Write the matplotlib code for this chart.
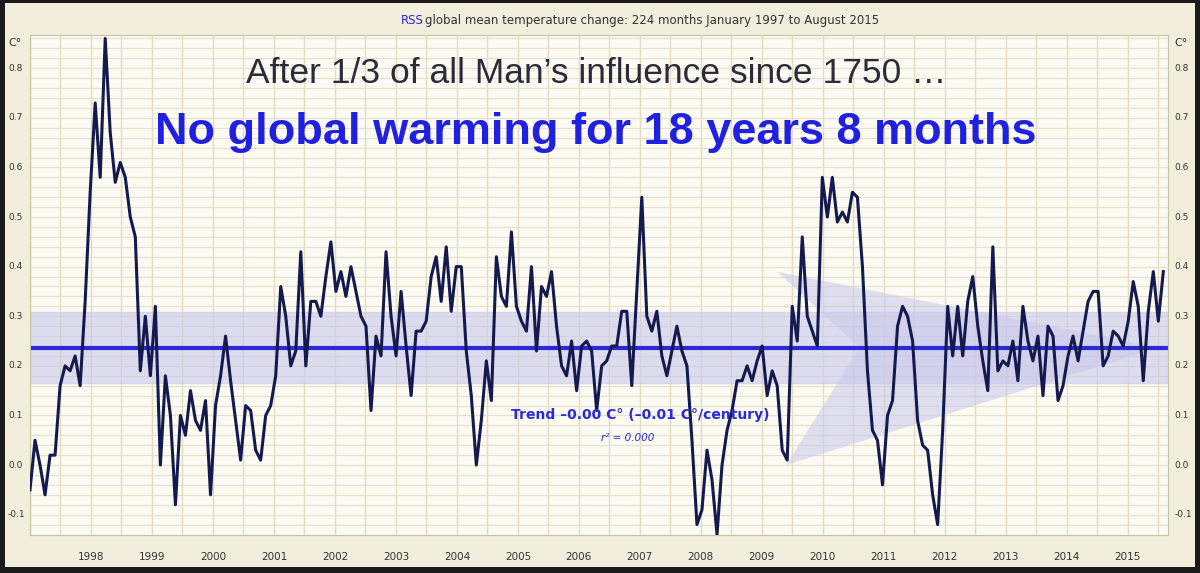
import numpy as np
import matplotlib
matplotlib.use("Agg")
import matplotlib.pyplot as plt
from matplotlib.patches import Polygon

y1997 = [-0.05, 0.05, 0.0, -0.06, 0.02, 0.02, 0.16, 0.20, 0.19, 0.22, 0.16, 0.33]
y1998 = [0.55, 0.73, 0.58, 0.86, 0.67, 0.57, 0.61, 0.58, 0.50, 0.46, 0.19, 0.30]
y1999 = [0.18, 0.32, 0.0, 0.18, 0.10, -0.08, 0.10, 0.06, 0.15, 0.09, 0.07, 0.13]
y2000 = [-0.06, 0.12, 0.18, 0.26, 0.17, 0.09, 0.01, 0.12, 0.11, 0.03, 0.01, 0.10]
y2001 = [0.12, 0.18, 0.36, 0.30, 0.20, 0.23, 0.43, 0.20, 0.33, 0.33, 0.30, 0.38]
y2002 = [0.45, 0.35, 0.39, 0.34, 0.40, 0.35, 0.30, 0.28, 0.11, 0.26, 0.22, 0.43]
y2003 = [0.30, 0.22, 0.35, 0.24, 0.14, 0.27, 0.27, 0.29, 0.38, 0.42, 0.33, 0.44]
y2004 = [0.31, 0.40, 0.40, 0.23, 0.14, 0.00, 0.09, 0.21, 0.13, 0.42, 0.34, 0.32]
y2005 = [0.47, 0.32, 0.29, 0.27, 0.40, 0.23, 0.36, 0.34, 0.39, 0.28, 0.20, 0.18]
y2006 = [0.25, 0.15, 0.24, 0.25, 0.23, 0.11, 0.20, 0.21, 0.24, 0.24, 0.31, 0.31]
y2007 = [0.16, 0.35, 0.54, 0.30, 0.27, 0.31, 0.22, 0.18, 0.23, 0.28, 0.23, 0.20]
y2008 = [0.05, -0.12, -0.09, 0.03, -0.03, -0.14, 0.00, 0.07, 0.11, 0.17, 0.17, 0.20]
y2009 = [0.17, 0.21, 0.24, 0.14, 0.19, 0.16, 0.03, 0.01, 0.32, 0.25, 0.46, 0.30]
y2010 = [0.27, 0.24, 0.58, 0.50, 0.58, 0.49, 0.51, 0.49, 0.55, 0.54, 0.40, 0.19]
y2011 = [0.07, 0.05, -0.04, 0.10, 0.13, 0.28, 0.32, 0.30, 0.25, 0.09, 0.04, 0.03]
y2012 = [-0.06, -0.12, 0.07, 0.32, 0.22, 0.32, 0.22, 0.33, 0.38, 0.28, 0.21, 0.15]
y2013 = [0.44, 0.19, 0.21, 0.20, 0.25, 0.17, 0.32, 0.25, 0.21, 0.26, 0.14, 0.28]
y2014 = [0.26, 0.13, 0.16, 0.22, 0.26, 0.21, 0.27, 0.33, 0.35, 0.35, 0.20, 0.22]
y2015 = [0.27, 0.26, 0.24, 0.29, 0.37, 0.32, 0.17, 0.31, 0.39, 0.29, 0.39]
anoms = (y1997 + y1998 + y1999 + y2000 + y2001 + y2002 + y2003 + y2004 + y2005 +
         y2006 + y2007 + y2008 + y2009 + y2010 + y2011 + y2012 + y2013 + y2014 + y2015)
years = list(range(1998, 2016))
yticks = [-0.1, 0.0, 0.1, 0.2, 0.3, 0.4, 0.5, 0.6, 0.7, 0.8]
trend = 0.237
band = 0.072

vals = np.array(anoms)
t = 1997 + np.arange(len(vals)) / 12 * (18 + 7/12) / ((len(vals) - 1) / 12)

fig = plt.figure(figsize=(12, 5.73), dpi=100)
fig.patch.set_facecolor("#1a1a1a")
bg = fig.add_axes([0.004, 0.01, 0.992, 0.985])
bg.set_facecolor("#f1eedc"); bg.set_xticks([]); bg.set_yticks([])
for s in bg.spines.values(): s.set_visible(False)

ax = fig.add_axes([30/1200, 1-535/573, 1138/1200, 500/573])
ax.set_facecolor("#fbfaf3")
ax.set_xlim(1997, 2015.66)
ax.set_ylim(-0.141, 0.867)
for x in np.arange(1997, 2016, 0.5):
    ax.axvline(x, color="#e2dcc0", lw=1, zorder=0)
for y in np.arange(-0.14, 0.87, 0.02):
    ax.axhline(y, color="#e6e1c8", lw=0.8, zorder=0)
ax.axhspan(trend - band, trend + band, color="#c9c8ec", alpha=0.6, zorder=1)
wedge = Polygon([[2009.25, 0.39], [2015.5, trend], [2009.4, 0.0], [2010.6, trend]],
                closed=True, color="#c9c8ec", alpha=0.55, zorder=1, lw=0)
ax.add_patch(wedge)
ax.axhline(trend, color="#2a2ad8", lw=3, zorder=2)
ax.plot(t, vals, color="#151a4e", lw=2.2, zorder=3)
ax.set_xticks([]); ax.set_yticks([])
for s in ax.spines.values(): s.set_color("#c8c2a4")

for v in yticks:
    ax.text(-22/1138, v, f"{v:.1f}", transform=ax.get_yaxis_transform(), ha="left",
            va="center", fontsize=6.5, color="#333")
    ax.text(1.006, v, f"{v:.1f}", transform=ax.get_yaxis_transform(), ha="left",
            va="center", fontsize=6.5, color="#333")
ax.text(-22/1138, 0.85, "C°", transform=ax.get_yaxis_transform(), ha="left", va="center", fontsize=8, color="#333")
ax.text(1.006, 0.85, "C°", transform=ax.get_yaxis_transform(), ha="left", va="center", fontsize=8, color="#333")
for yr in years:
    ax.text(yr, -0.045, str(yr), transform=ax.get_xaxis_transform(), ha="center",
            va="center", fontsize=7.5, color="#333")

fig.text(0.3535, 0.965, "RSS", color="#2a2ad8", fontsize=8.5, ha="right", va="center")
fig.text(0.3545, 0.965, "global mean temperature change: 224 months January 1997 to August 2015",
         color="#333", fontsize=8.5, ha="left", va="center")
ax.text(2006.28, 0.79, "After 1/3 of all Man\u2019s influence since 1750 \u2026", ha="center",
        va="center", fontsize=25.5, color="#2b2b3a", family="Liberation Sans")
ax.text(2006.28, 0.67, "No global warming for 18 years 8 months", ha="center", va="center",
        fontsize=32.5, color="#2020e0", fontweight="bold", family="Liberation Sans")
ax.text(2007.0, 0.10, "Trend \u20130.00 C° (\u20130.01 C°/century)", ha="center", va="center",
        fontsize=10, color="#2a2ad8", fontweight="bold")
ax.text(2006.8, 0.055, "r² = 0.000", ha="center", va="center", fontsize=7.5,
        color="#2a2ad8", style="italic")
fig.savefig("out.png", dpi=100, facecolor=fig.get_facecolor())
